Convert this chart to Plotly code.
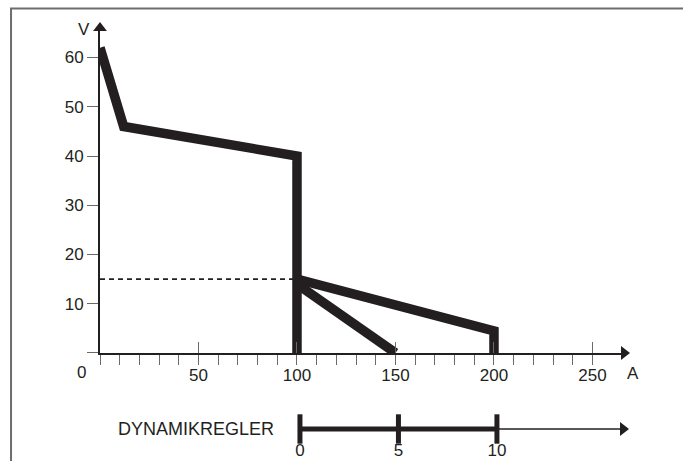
import plotly.graph_objects as go

# ---- data ----
curve1_x = [0, 12, 100, 100]
curve1_y = [62, 46, 40, 0]
curve2_x = [100, 200, 200]
curve2_y = [15, 4.5, 0]
curve3_x = [100, 150]
curve3_y = [14, 0]
dash_x = [0, 100]
dash_y = [15, 15]

x_major = [0, 50, 100, 150, 200, 250]
x_major_text = ["", "50", "100", "150", "200", "250"]
x_minor = [10, 20, 30, 40, 60, 70, 80, 90, 110, 120, 130, 140,
           160, 170, 180, 190, 210, 220, 230, 240]
y_ticks = [0, 10, 20, 30, 40, 50, 60]
y_ticks_text = ["", "10", "20", "30", "40", "50", "60"]

dyn_ticks = [0, 5, 10]
dyn_labels = ["0", "5", "10"]
dyn_thick = [0, 10]
dyn_thin = [10, 16.5]

X_MAX = 266
Y_MAX = 66
DYN_MIN, DYN_MAX = -10.15, 16.45

INK = "#231f20"
TICK = "#6a6a6a"
FONT = "Liberation Sans, Arial, sans-serif"

fig = go.Figure()

# dashed reference line
fig.add_trace(go.Scatter(x=dash_x, y=dash_y, mode="lines",
                         line=dict(color=INK, width=1.6, dash="5px,4px"),
                         hoverinfo="skip"))
# thick characteristic curves
for cx, cy in [(curve1_x, curve1_y), (curve2_x, curve2_y), (curve3_x, curve3_y)]:
    fig.add_trace(go.Scatter(x=cx, y=cy, mode="lines",
                             line=dict(color=INK, width=9.5),
                             hoverinfo="skip"))
# axis arrow heads
fig.add_trace(go.Scatter(x=[0], y=[Y_MAX], mode="markers", cliponaxis=False,
                         marker=dict(symbol="triangle-up", size=12, color=INK),
                         hoverinfo="skip"))
fig.add_trace(go.Scatter(x=[X_MAX], y=[0], mode="markers", cliponaxis=False,
                         marker=dict(symbol="triangle-right", size=12, color=INK),
                         hoverinfo="skip"))

# dynamikregler scale (second subplot)
fig.add_trace(go.Scatter(x=dyn_thin, y=[0, 0], mode="lines", xaxis="x2", yaxis="y2",
                         line=dict(color=INK, width=1.6), hoverinfo="skip"))
fig.add_trace(go.Scatter(x=dyn_thick, y=[0, 0], mode="lines", xaxis="x2", yaxis="y2",
                         line=dict(color=INK, width=5), hoverinfo="skip"))
fig.add_trace(go.Scatter(x=dyn_ticks, y=[0] * len(dyn_ticks), mode="markers+text",
                         xaxis="x2", yaxis="y2", cliponaxis=False,
                         marker=dict(symbol="line-ns", size=21,
                                     line=dict(color=INK, width=5)),
                         text=dyn_labels, textposition="bottom center",
                         textfont=dict(family=FONT, size=17, color=INK),
                         hoverinfo="skip"))
fig.add_trace(go.Scatter(x=[DYN_MAX - 0.05], y=[0], mode="markers", xaxis="x2", yaxis="y2",
                         cliponaxis=False,
                         marker=dict(symbol="triangle-right", size=12, color=INK),
                         hoverinfo="skip"))

fig.update_layout(
    width=683, height=461, autosize=False,
    margin=dict(l=100, r=59, t=28, b=10),
    paper_bgcolor="white", plot_bgcolor="rgba(0,0,0,0)",
    showlegend=False,
    font=dict(family=FONT, size=17, color=INK),
    xaxis=dict(range=[0, X_MAX], domain=[0, 1], anchor="y",
               showgrid=False, zeroline=False,
               showline=True, linecolor=INK, linewidth=1.8,
               tickmode="array", tickvals=x_major, ticktext=x_major_text,
               ticks="outside", ticklen=10, tickwidth=1.4, tickcolor=TICK,
               ticklabelstandoff=-4,
               minor=dict(tickmode="array", tickvals=x_minor, ticks="outside",
                          ticklen=10, tickwidth=1.2, tickcolor=TICK, showgrid=False),
               tickfont=dict(family=FONT, size=17, color=INK)),
    xaxis3=dict(range=[0, X_MAX], overlaying="x", anchor="y", matches="x",
                showgrid=False, zeroline=False, showline=False,
                tickmode="array", tickvals=x_major[1:], ticks="inside",
                ticklen=11, tickwidth=1.4, tickcolor=TICK, showticklabels=False),
    yaxis=dict(range=[0, Y_MAX], domain=[0.2317, 1], anchor="x",
               showgrid=False, zeroline=False,
               showline=True, linecolor=INK, linewidth=1.8,
               tickmode="array", tickvals=y_ticks, ticktext=y_ticks_text,
               ticks="outside", ticklen=11, tickwidth=1.4, tickcolor=TICK,
               tickfont=dict(family=FONT, size=17, color=INK)),
    xaxis2=dict(range=[DYN_MIN, DYN_MAX], domain=[0, 1], anchor="y2",
                visible=False),
    yaxis2=dict(range=[-1, 1], domain=[0.002, 0.102], anchor="x2", visible=False),
)

# an empty trace so xaxis3 is rendered
fig.add_trace(go.Scatter(x=[None], y=[None], xaxis="x3", yaxis="y", hoverinfo="skip"))

fig.add_annotation(x=0, y=0, xref="x", yref="y", text="0", showarrow=False,
                   xanchor="center", yanchor="middle", xshift=-19, yshift=-20,
                   font=dict(family=FONT, size=17, color=INK))
fig.add_annotation(x=0, y=Y_MAX, xref="x", yref="y", text="V", showarrow=False,
                   xanchor="center", yanchor="middle", xshift=-16, yshift=-1,
                   font=dict(family=FONT, size=17, color=INK))
fig.add_annotation(x=X_MAX, y=0, xref="x", yref="y", text="A", showarrow=False,
                   xanchor="center", yanchor="middle", xshift=9, yshift=-21,
                   font=dict(family=FONT, size=17, color=INK))
fig.add_annotation(x=-1.2, y=0, xref="x2", yref="y2", text="DYNAMIKREGLER",
                   showarrow=False, xanchor="right", yanchor="middle",
                   font=dict(family=FONT, size=18, color=INK))

# outer frame
fig.add_shape(type="rect", xref="paper", yref="paper",
              x0=-0.1698, x1=1.2, y0=-0.1, y1=1.046,
              line=dict(color="#6d6d6d", width=2), fillcolor="rgba(0,0,0,0)")

fig.write_html("out.html", config={"displayModeBar": False},
               post_script="document.body.style.margin='0';document.body.style.overflow='hidden';")
